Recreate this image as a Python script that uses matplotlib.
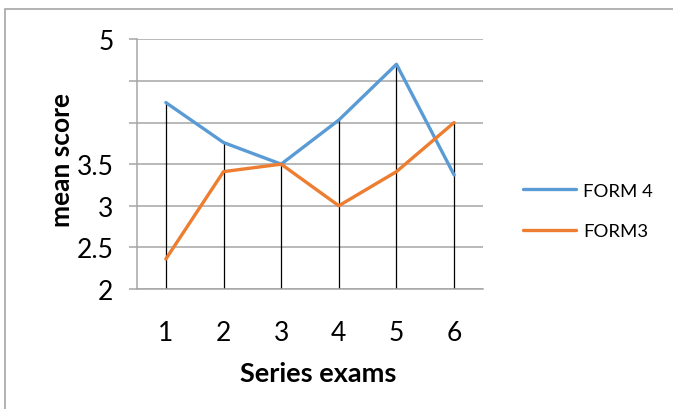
import matplotlib.pyplot as plt
from matplotlib.patches import Rectangle
import numpy as np

# mean score per series exam
exams = [1, 2, 3, 4, 5, 6]
form4 = [4.24, 3.76, 3.50, 4.03, 4.70, 3.37]
form3 = [2.36, 3.41, 3.50, 3.00, 3.41, 4.00]

y_ticks = [2, 2.5, 3, 3.5, 4, 4.5, 5]
y_labels = ['2', '2.5', '3', '3.5', '', '', '5']

plt.rcParams['font.family'] = ['Lato', 'DejaVu Sans']

fig = plt.figure(figsize=(6.73, 4.10), dpi=100)
ax = fig.add_axes([0.2036, 0.2927, 0.514, 0.609])

# chart frame
fig.patches.append(Rectangle((5 / 673, -0.1), 1.2, 1.1 - 10 / 410,
                             transform=fig.transFigure, fill=False,
                             edgecolor='#a6a6a6', lw=1.2))

grid_col = '#a6a6a6'
for y in y_ticks:
    ax.axhline(y, color=grid_col, lw=1.1, zorder=1)

# high-low lines from the axis up to the higher score
ax.vlines(exams, 2, np.maximum(form4, form3), color='black', lw=0.9, zorder=2)

ax.plot(exams, form4, color='#5b9bd5', lw=2.4, label='FORM 4', zorder=3,
        solid_capstyle='round')
ax.plot(exams, form3, color='#ed7d31', lw=2.4, label='FORM3', zorder=3,
        solid_capstyle='round')

ax.set_xlim(0.5, 6.5)
ax.set_ylim(2, 5)
ax.set_xticks(exams)
ax.set_yticks(y_ticks)
ax.set_yticklabels(y_labels)
ax.tick_params(axis='y', length=6, color=grid_col, width=1.1, pad=11, labelsize=19)
ax.tick_params(axis='x', length=0, pad=22, labelsize=19)

for s in ['top', 'right']:
    ax.spines[s].set_visible(False)
for s in ['left', 'bottom']:
    ax.spines[s].set_color(grid_col)
    ax.spines[s].set_linewidth(1.1)

ax.set_xlabel('Series exams', fontsize=19.5, fontweight='bold')
ax.set_ylabel('mean score', fontsize=19, fontweight='bold')
ax.xaxis.set_label_coords(0.523, -0.29)
ax.yaxis.set_label_coords(-0.217, 0.52)
ax.yaxis.label.set(va='center', ha='center', rotation_mode='default')

fig.legend(loc='center left', bbox_to_anchor=(0.777, 0.483), frameon=False,
           fontsize=13.3, handlelength=2.9, handletextpad=0.35, labelspacing=1.3,
           borderpad=0, borderaxespad=0)

fig.savefig('out.png', dpi=100)
